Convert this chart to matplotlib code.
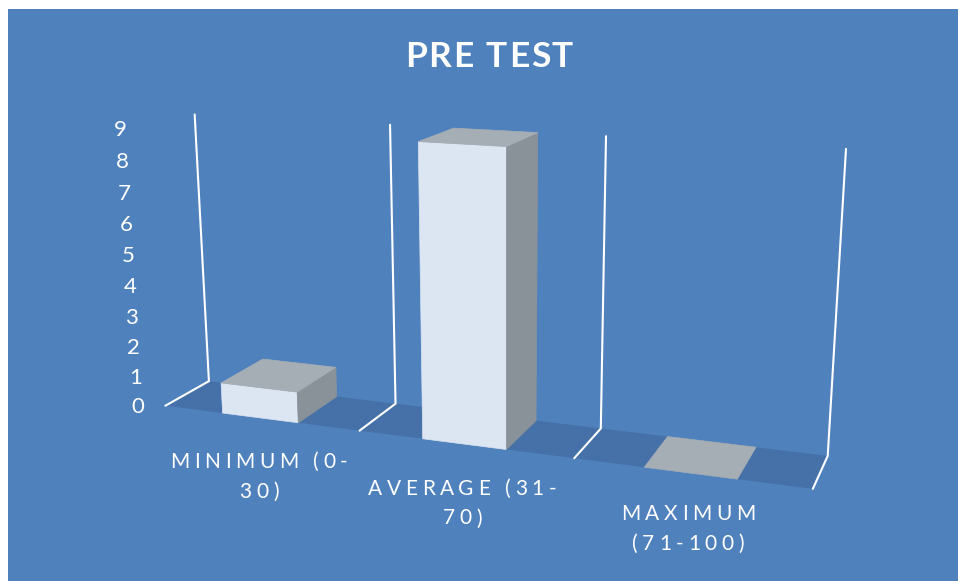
import numpy as np
import matplotlib
matplotlib.use('Agg')
import matplotlib.pyplot as plt
from matplotlib.patches import Polygon, Rectangle
from matplotlib.text import Text
from matplotlib.transforms import IdentityTransform

categories = ['MINIMUM (0-\n30)', 'AVERAGE (31-\n70)', 'MAXIMUM\n(71-100)']
values = [1, 9, 0]
ticks = list(range(10))
title = 'PRE TEST'

bg_color = '#4F81BD'
floor_color = '#4571A8'
front_color = '#DCE6F2'
top_color = '#A6AEB5'
side_color = '#8A9299'

plt.rcParams['font.family'] = ['Lato', 'DejaVu Sans']

# camera fit: (category, depth, value) -> pixel
cam_world = np.array([
    [0, 0, 0], [0, 1, 0], [1, 0, 0], [1, 1, 0], [2, 0, 0], [2, 1, 0], [3, 0, 0], [3, 1, 0],
    [0, 1, 9], [1, 1, 9], [2, 1, 9], [3, 1, 9],
    [1.3, 0, 9], [1.7, 0, 9], [1.7, 1, 9], [1.3, 1, 9], [1.3, 0, 0], [1.7, 0, 0],
], dtype=float)
cam_px = np.array([
    [165, 406], [209, 381], [359, 431], [396, 404], [575, 459], [601, 429], [813, 489], [827, 456],
    [195, 114], [389, 125], [607, 136], [846, 148],
    [418, 142], [507, 147], [538, 133], [453, 128], [422, 437], [507, 449],
], dtype=float)

A, b = [], []
for (u, d, z), (px, py) in zip(cam_world, cam_px):
    A.append([u, d, z, 1, 0, 0, 0, 0, -px * u, -px * d, -px * z])
    A.append([0, 0, 0, 0, u, d, z, 1, -py * u, -py * d, -py * z])
    b += [px, py]
p = np.linalg.lstsq(np.array(A), np.array(b), rcond=None)[0]
P = np.append(p, 1).reshape(3, 4)


def proj(u, d, z):
    x, y, w = P @ np.array([u, d, z, 1.0])
    return x / w, y / w


class SpacedText(Text):
    # matplotlib has no letter spacing, so lay the glyphs out one by one
    def __init__(self, x, y, text, spacing=0, line_height=30, **kw):
        super().__init__(x, y, text, **kw)
        self.spacing = spacing
        self.line_height = line_height

    def draw(self, renderer):
        x0, y0 = self.get_transform().transform((self._x, self._y))
        fp = self.get_fontproperties()
        for j, line in enumerate(self.get_text().split('\n')):
            adv = [renderer.get_text_width_height_descent(c, fp, False)[0] for c in line]
            total = sum(adv) + self.spacing * (len(line) - 1)
            x = x0 - total / 2
            y = y0 - j * self.line_height
            for c, w in zip(line, adv):
                t = Text(x, y, c, color=self.get_color(), fontproperties=fp, ha='left',
                         va='center_baseline', transform=IdentityTransform())
                t.set_figure(self.get_figure())
                t.draw(renderer)
                x += w + self.spacing


fig = plt.figure(figsize=(9.58, 5.81), dpi=100)
ax = fig.add_axes([0, 0, 1, 1])
ax.set_xlim(0, 958)
ax.set_ylim(581, 0)
ax.axis('off')
ax.add_patch(Rectangle((8, 9), 950, 572, color=bg_color, lw=0))

n = len(categories)
zmax = ticks[-1]

# floor band
ax.add_patch(Polygon([proj(0, 0, 0), proj(0, 1, 0), proj(n, 1, 0), proj(n, 0, 0)], color=floor_color, lw=0))

# wall lines at each category boundary
for i in range(n + 1):
    pts = np.array([proj(i, 0, 0), proj(i, 1, 0), proj(i, 1, zmax)])
    ax.plot(pts[:, 0], pts[:, 1], color='white', lw=1.5, solid_capstyle='round', solid_joinstyle='miter')

# bars
bar_w = 0.39
for i, v in enumerate(values):
    u0 = i + 0.5 - bar_w / 2
    u1 = i + 0.5 + bar_w / 2
    if v > 0:
        ax.add_patch(Polygon([proj(u0, 0, 0), proj(u1, 0, 0), proj(u1, 0, v), proj(u0, 0, v)],
                             facecolor=front_color, edgecolor=front_color, lw=0.5))
        ax.add_patch(Polygon([proj(u1, 0, 0), proj(u1, 1, 0), proj(u1, 1, v), proj(u1, 0, v)],
                             facecolor=side_color, edgecolor=side_color, lw=0.5))
    ax.add_patch(Polygon([proj(u0, 0, v), proj(u1, 0, v), proj(u1, 1, v), proj(u0, 1, v)],
                         facecolor=top_color, edgecolor=top_color, lw=0.5))

# value labels lean with the axis
for t in ticks:
    x, y = proj(0, 0, t)
    ax.text(x - 28, y + 1.5 + 0.2 * t, str(t), color='white', fontsize=16, ha='center', va='center')

# category labels
label_pos = [(259, 460), (462, 487), (688, 512)]
for name, (x, y) in zip(categories, label_pos):
    ax.add_artist(SpacedText(x, y, name, spacing=4.6, line_height=29.5, color='white',
                             fontsize=15, transform=ax.transData))

ax.add_artist(SpacedText(489, 54, title, spacing=1.8, color='white', fontsize=25.5,
                         fontweight='bold', transform=ax.transData))

fig.savefig('out.png', dpi=100)
